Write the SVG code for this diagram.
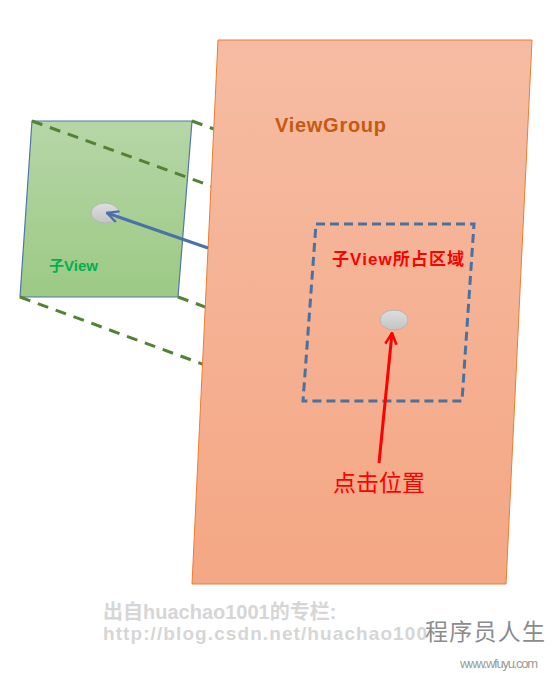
<svg xmlns="http://www.w3.org/2000/svg" width="557" height="673" viewBox="0 0 557 673">
<defs>
<linearGradient id="gOrange" x1="0" y1="0" x2="0" y2="1"><stop offset="0" stop-color="#f6bca3"/><stop offset="1" stop-color="#f4a784"/></linearGradient>
<linearGradient id="gGreen" x1="0" y1="0" x2="0" y2="1"><stop offset="0" stop-color="#b6d6a7"/><stop offset="1" stop-color="#9cc984"/></linearGradient>
<linearGradient id="gDot" x1="0" y1="0" x2="0" y2="1"><stop offset="0" stop-color="#dedede"/><stop offset="1" stop-color="#c4c4c4"/></linearGradient>
<marker id="arrBlue" viewBox="0 0 12 12" refX="11" refY="6" markerWidth="4.5" markerHeight="4.5" orient="auto" markerUnits="strokeWidth"><path d="M1,1 L11,6 L1,11" fill="none" stroke="#4a72a6" stroke-width="2.2"/></marker>
<marker id="arrRed" viewBox="0 0 12 12" refX="11" refY="6" markerWidth="4.5" markerHeight="4.5" orient="auto" markerUnits="strokeWidth"><path d="M1,1 L11,6 L1,11" fill="none" stroke="#ff0000" stroke-width="2.2"/></marker>
<style>
.proj{stroke:#538135;stroke-width:3;stroke-dasharray:11 8;fill:none}
.dot{fill:url(#gDot);stroke:#b5b5b5;stroke-width:1}
.cjk{font-family:"Liberation Sans","Noto Sans CJK SC",sans-serif}
</style>
</defs>
<g id="child-view">
<polygon points="32,121 192,121 178,297 20,297" fill="url(#gGreen)" stroke="#4f77a8" stroke-width="1.2"/>
<ellipse class="dot" cx="105" cy="213" rx="14" ry="10"/>
<text x="49" y="271" class="cjk" font-size="15" font-weight="bold" fill="#00b050">子View</text>
</g>
<g id="connectors-projection">
<line class="proj" x1="32" y1="121" x2="316" y2="224"/>
<line class="proj" x1="192" y1="121" x2="474" y2="224"/>
<line class="proj" x1="20" y1="297" x2="303" y2="401"/>
<line class="proj" x1="178" y1="297" x2="462" y2="401"/>
</g>
<g id="viewgroup">
<polygon points="218,40 532,40 506,584 192,584" fill="url(#gOrange)" stroke="#ed7d31" stroke-width="1"/>
<text x="275" y="132" class="cjk" font-size="20" font-weight="bold" fill="#c55a11" textLength="111">ViewGroup</text>
</g>
<g id="child-region">
<polygon points="316,224 474,224 462,401 303,401" fill="none" stroke="#4a72a0" stroke-width="3" stroke-dasharray="9 5"/>
<text x="332" y="265" class="cjk" font-size="17" font-weight="bold" fill="#ff0000" textLength="132">子View所占区域</text>
<ellipse class="dot" cx="394" cy="320" rx="14" ry="10"/>
</g>
<g id="click-label">
<text x="333" y="491" class="cjk" font-size="23" fill="#ff0000">点击位置</text>
</g>
<g id="connectors">
<line x1="208" y1="248" x2="107" y2="213" stroke="#4a72a6" stroke-width="3" marker-end="url(#arrBlue)"/>
<line x1="379" y1="463" x2="392" y2="333" stroke="#ff0000" stroke-width="3" marker-end="url(#arrRed)"/>
</g>
<g id="watermark">
<text x="103" y="619" class="cjk" font-size="20" font-weight="bold" fill="#d6d6d6">出自huachao1001的专栏:</text>
<text x="103" y="640" class="cjk" font-size="19" font-weight="bold" fill="#d6d6d6" textLength="324">http://blog.csdn.net/huachao100</text>
<text x="425" y="640" class="cjk" font-size="23" fill="#8c8c8c" textLength="120">程序员人生</text>
<text x="460" y="668" class="cjk" font-size="13" fill="#9a9a9a" textLength="78">www.wfuyu.com</text>
</g>
</svg>
